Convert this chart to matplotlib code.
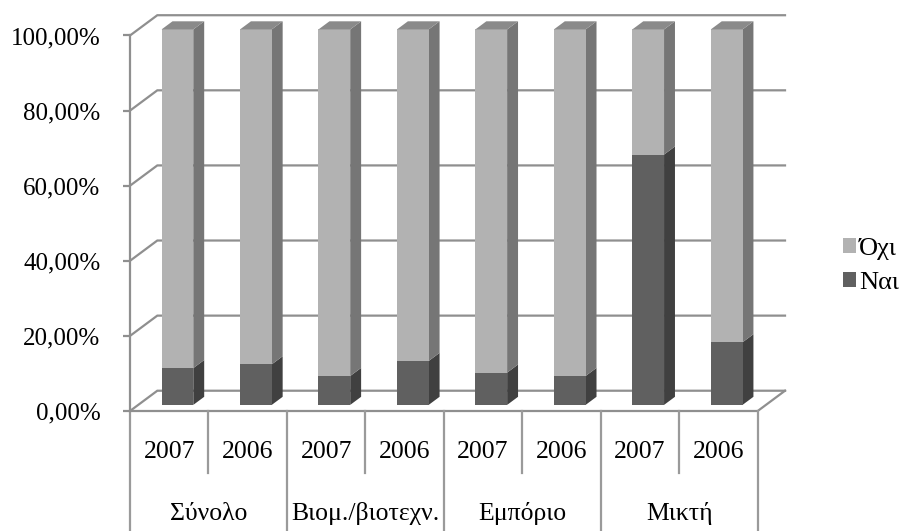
import matplotlib
matplotlib.use('Agg')
import matplotlib.pyplot as plt
from matplotlib.patches import Polygon, Rectangle

plt.rcParams['font.family'] = ['Liberation Serif', 'DejaVu Serif']

groups = ['Σύνολο', 'Βιομ./βιοτεχν.', 'Εμπόριο', 'Μικτή']
years = ['2007', '2006', '2007', '2006', '2007', '2006', '2007', '2006']
nai = [9.8, 10.8, 7.7, 11.7, 8.6, 7.7, 66.67, 16.67]
oxi = [90.2, 89.2, 92.3, 88.3, 91.4, 92.3, 33.33, 83.33]
series_names = ['Όχι', 'Ναι']
y_ticks = [0, 20, 40, 60, 80, 100]
y_labels = ['0,00%', '20,00%', '40,00%', '60,00%', '80,00%', '100,00%']

# colours: front / side / top
light = ('#b2b2b2', '#767676', '#8a8a8a')
dark = ('#606060', '#404040', '#505050')
grid_c = '#8f8f8f'

# depth of the 3d box in data units, bar placement inside it
DX, DY = 0.348, 5.4
BW = 0.404
D0, D1 = 0.3, 0.7

fig = plt.figure(figsize=(9.03, 5.31), dpi=100)
ax = fig.add_axes([130 / 903, 120 / 531, 627.7 / 903, 375.5 / 531])
ax.set_xlim(0, len(years))
ax.set_ylim(0, 100)
for s in ['top', 'right', 'bottom']:
    ax.spines[s].set_visible(False)
ax.spines['left'].set_color(grid_c)
ax.spines['left'].set_linewidth(1.6)
ax.set_xticks([])
ax.set_yticks(y_ticks)
ax.set_yticklabels(y_labels)
ax.tick_params(axis='y', length=5.3, width=1.6, color=grid_c, pad=16,
               labelsize=18)

n = len(years)

# side wall diagonals and back wall gridlines
for v in y_ticks:
    ax.plot([0, DX, n + DX], [v, v + DY, v + DY], color=grid_c, lw=1.6,
            clip_on=False, zorder=1, solid_joinstyle='miter')
# floor front and right edges
ax.plot([0, n, n + DX], [0, 0, DY], color=grid_c, lw=1.6, clip_on=False,
        zorder=1)


def draw_segment(i, bottom, top, cols, with_top):
    x0 = i + 0.5 - BW / 2 + D0 * DX
    y0 = D0 * DY
    ddx = (D1 - D0) * DX
    ddy = (D1 - D0) * DY
    front = Rectangle((x0, bottom + y0), BW, top - bottom, facecolor=cols[0],
                      edgecolor='none', clip_on=False, zorder=3)
    side = Polygon([(x0 + BW, bottom + y0), (x0 + BW + ddx, bottom + y0 + ddy),
                    (x0 + BW + ddx, top + y0 + ddy), (x0 + BW, top + y0)],
                   closed=True, facecolor=cols[1], edgecolor='none',
                   clip_on=False, zorder=3)
    ax.add_patch(side)
    ax.add_patch(front)
    if with_top:
        tp = Polygon([(x0, top + y0), (x0 + BW, top + y0),
                      (x0 + BW + ddx, top + y0 + ddy), (x0 + ddx, top + y0 + ddy)],
                     closed=True, facecolor=cols[2], edgecolor='none',
                     clip_on=False, zorder=3)
        ax.add_patch(tp)


for i in range(n):
    draw_segment(i, 0, nai[i], dark, False)
    draw_segment(i, nai[i], nai[i] + oxi[i], light, True)

# category table under the floor
table_c = '#9a9a9a'
for k in range(n + 1):
    low = -32 if k % 2 == 0 else -16.5
    ax.plot([k, k], [0, low], color=table_c, lw=1.6, clip_on=False, zorder=1)
for i, yr in enumerate(years):
    ax.text(i + 0.5, -10.8, yr, ha='center', va='center', fontsize=18.5)
for g, name in enumerate(groups):
    ax.text(2 * g + 1, -27.4, name, ha='center', va='center', fontsize=18.5)

handles = [Rectangle((0, 0), 1, 1, facecolor=light[0]),
           Rectangle((0, 0), 1, 1, facecolor=dark[0])]
fig.legend(handles, series_names, loc='center left',
           bbox_to_anchor=(843 / 903, 1 - 266 / 531), frameon=False,
           fontsize=19, handlelength=0.5, handleheight=0.5,
           handletextpad=0.1, labelspacing=0.45, borderaxespad=0,
           borderpad=0)

fig.savefig('out.png', dpi=100)
